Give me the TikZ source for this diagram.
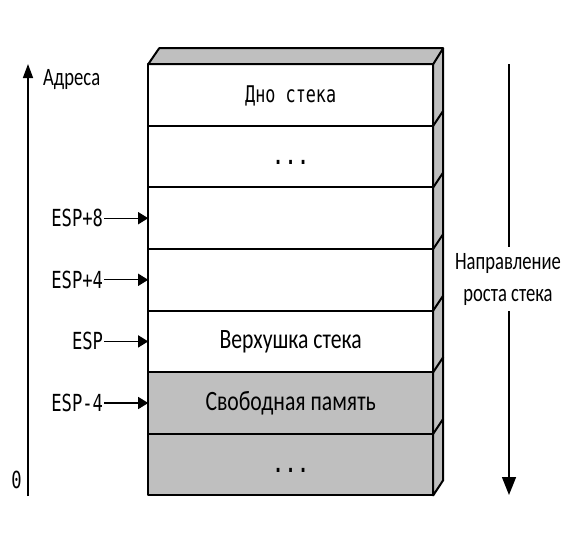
\documentclass[tikz,border=0pt]{standalone}
\usepackage{fontspec}
\usetikzlibrary{matrix,positioning,arrows.meta}
\newfontfamily\stackfont[FakeStretch=0.73]{DejaVu Sans Mono}
\newfontfamily\notefont[FakeStretch=0.745]{Carlito}
\newfontfamily\bigfont[FakeStretch=0.775]{Carlito}
\definecolor{stackgray}{HTML}{BFBFBF}
\newcommand{\stackdots}{{\bfseries.\kern2.5pt.\kern2.5pt.}}
\tikzset{
  cell text/.style={font=\stackfont\fontsize{23}{26}\selectfont},
  big text/.style={font=\bigfont\fontsize{28}{30}\selectfont},
  addr label/.style={font=\stackfont\fontsize{23.5}{26}\selectfont,inner sep=1pt},
  note label/.style={font=\notefont\fontsize{25}{32}\selectfont,align=center,inner sep=0pt},
  edge line/.style={draw=black,line width=2pt,line join=round},
  ptr/.style={line width=1.3pt,-{Triangle[length=10pt,width=12pt]}},
}
\begin{document}
\begin{tikzpicture}[x=1pt,y=1pt]
  \useasboundingbox (0,0) rectangle (580,-546);
  \matrix[matrix of nodes,anchor=north west,inner sep=0pt,
  row sep=-2pt,column sep=0pt,
  nodes={edge line,cell text,fill=white,outer sep=0pt,inner sep=0pt,
    minimum width=285pt,minimum height=61.6pt,text height=15pt,text depth=0pt},
  row 6/.style={nodes={fill=stackgray}},
  row 7/.style={nodes={fill=stackgray}},
  nodes in empty cells] (m) at (147,-63) {
    Дно стека \\
    \stackdots \\
    \\
    \\
    |[big text]| Верхушка стека \\
    |[big text]| Свободная память \\
    \stackdots \\
  };
  \draw[edge line,fill=stackgray] (m-1-1.north west) -- ++(11,16) -- ++(284,0)
    -- ++(0,-432) -- (m-7-1.south east) -- (m-1-1.north east) -- cycle;
  \draw[edge line] (m-1-1.north east) -- ++(10,16);
  \foreach \r in {1,...,6}
    \draw[edge line] (m-\r-1.south east) -- ++(10,15);

  \node[addr label,left=44pt of m-3-1.west] (esp8) {ESP+8};
  \node[addr label,left=44pt of m-4-1.west] (esp4) {ESP+4};
  \node[addr label,left=44pt of m-5-1.west] (esp) {ESP};
  \node[addr label,left=44pt of m-6-1.west] (espm4) {ESP-4};
  \draw[ptr] (esp8) -- (m-3-1);
  \draw[ptr] (esp4) -- (m-4-1);
  \draw[ptr] (esp) -- (m-5-1);
  \draw[ptr] (espm4) -- (m-6-1);

  % address axis
  \coordinate (addrlow) at (28,-496);
  \coordinate (addrhigh) at (28,-64);
  \draw[line width=1.5pt,-{Triangle[length=14pt,width=10pt]}] (addrlow) -- (addrhigh);
  \node[note label,anchor=west] (addr) at (43,-80) {Адреса};
  \node[addr label,anchor=east] (zero) at (23,-480) {0};

  % growth direction, broken by its label
  \node[note label,minimum height=64pt] (grow) at (508,-279) {Направление\\роста стека};
  \coordinate (growtop) at (509,-64);
  \coordinate (growend) at (509,-495);
  \draw[line width=1.5pt] (growtop) -- (grow.north -| growtop);
  \draw[line width=1.5pt,-{Triangle[length=18pt,width=14pt]}] (grow.south -| growend) -- (growend);
\end{tikzpicture}
\end{document}
